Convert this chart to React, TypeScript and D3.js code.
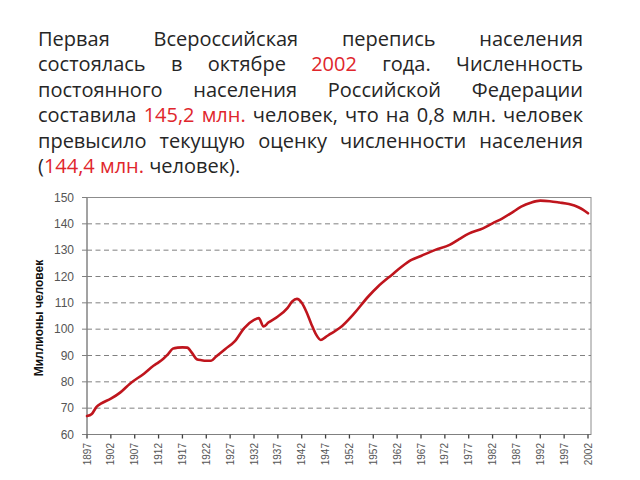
import React, { useMemo } from 'react';
import * as d3 from 'd3';

// ---- Data ----
const years = [
  1897, 1898, 1899, 1900, 1902, 1904, 1906, 1909, 1911, 1912, 1913, 1914, 1915, 1916, 1917, 1918,
  1919, 1920, 1921, 1922, 1923, 1924, 1926, 1928, 1930, 1932, 1933, 1934, 1935, 1937, 1939, 1940,
  1941, 1942, 1943, 1944, 1945, 1946, 1947, 1948, 1950, 1953, 1956, 1958, 1961, 1963, 1965, 1967,
  1970, 1973, 1975, 1977, 1980, 1982, 1984, 1986, 1988, 1990, 1992, 1994, 1996, 1998, 2000, 2001, 2002,
];
const population = [
  67.0, 67.8, 70.5, 71.8, 73.6, 76.0, 79.3, 83.2, 86.2, 87.4, 88.8, 90.5, 92.6, 93.0, 93.1, 93.0,
  91.0, 88.6, 88.2, 88.0, 88.0, 89.5, 92.5, 95.5, 100.5, 103.5, 104.2, 101.0, 102.5, 104.8, 108.0, 110.5,
  111.5, 110.0, 106.5, 102.0, 98.0, 95.9, 97.0, 98.2, 100.5, 106.0, 112.5, 116.2, 120.8, 123.8, 126.3, 127.8,
  130.1, 132.0, 134.2, 136.3, 138.3, 140.2, 142.0, 144.2, 146.5, 148.0, 148.8, 148.6, 148.1, 147.5, 146.3, 145.3, 144.0,
];
const yTickValues = [60, 70, 80, 90, 100, 110, 120, 130, 140, 150];
const xTickLabels = [
  '1897', '1902', '1907', '1912', '1917', '1922', '1927', '1932', '1937', '1942', '1947',
  '1952', '1957', '1962', '1967', '1972', '1977', '1982', '1987', '1992', '1997', '2002',
];
const yAxisTitle = 'Миллионы человек';

type Seg = { t: string; red?: boolean };
const paragraphLines: Seg[][] = [
  [{ t: 'Первая Всероссийская перепись населения' }],
  [{ t: 'состоялась в октябре' }, { t: '2002', red: true }, { t: 'года. Численность' }],
  [{ t: 'постоянного населения Российской Федерации' }],
  [{ t: 'составила' }, { t: '145,2 млн.', red: true }, { t: 'человек, что на 0,8 млн. человек' }],
  [{ t: 'превысило текущую оценку численности населения' }],
  [{ t: '(' }, { t: '144,4 млн.', red: true }, { t: 'человек).' }],
];

const FONT_FAMILY = '"Open Sans", "Noto Sans", sans-serif';
const TEXT_LEFT = 38;
const TEXT_RIGHT = 583;
const TEXT_TOP_BASELINE = 46;
const LINE_STEP = 25.4;

const margin = { left: 87, right: 588, top: 197.5, bottom: 434.5 };

type Word = { t: string; red: boolean; x: number };

function layoutParagraph(): { fontSize: number; lines: Word[][] } {
  const canvas = document.createElement('canvas');
  const ctx = canvas.getContext('2d')!;
  const W = TEXT_RIGHT - TEXT_LEFT;
  const lineWords = paragraphLines.map((l) => {
    const ws: { t: string; red: boolean }[] = [];
    l.forEach((s) => s.t.split(' ').forEach((w) => ws.push({ t: w, red: !!s.red })));
    const out: { parts: { t: string; red: boolean }[] }[] = [];
    ws.forEach((w) => {
      const prev = out[out.length - 1];
      if (prev && prev.parts.length === 1 && prev.parts[0].t === '(') prev.parts.push(w);
      else out.push({ parts: [w] });
    });
    return out;
  });
  let fontSize = 20;
  const measure = (fs: number) => {
    ctx.font = `${fs}px ${FONT_FAMILY}`;
    const space = ctx.measureText(' ').width;
    let maxNat = 0;
    lineWords.forEach((lw) => {
      const sum = lw.reduce((a, w) => a + w.parts.reduce((b, p) => b + ctx.measureText(p.t).width, 0), 0);
      maxNat = Math.max(maxNat, sum + space * 0.8 * (lw.length - 1));
    });
    return maxNat;
  };
  while (fontSize > 12 && measure(fontSize) > W) fontSize -= 0.25;
  ctx.font = `${fontSize}px ${FONT_FAMILY}`;
  const space = ctx.measureText(' ').width;
  const lines: Word[][] = lineWords.map((lw, li) => {
    const widths = lw.map((w) => w.parts.map((p) => ctx.measureText(p.t).width));
    const totals = widths.map((ws) => ws.reduce((a, b) => a + b, 0));
    const sum = totals.reduce((a, b) => a + b, 0);
    const last = li === lineWords.length - 1;
    const gap = last || lw.length < 2 ? space : (W - sum) / (lw.length - 1);
    const res: Word[] = [];
    let x = TEXT_LEFT;
    lw.forEach((w, wi) => {
      let px = x;
      w.parts.forEach((p, pi) => {
        res.push({ t: p.t, red: p.red, x: px });
        px += widths[wi][pi];
      });
      x += totals[wi] + gap;
    });
    return res;
  });
  return { fontSize, lines };
}

export default function App() {
  const para = useMemo(() => layoutParagraph(), []);

  const x = d3.scaleLinear().domain([1897, 2002]).range([margin.left, margin.right]);
  const y = d3.scaleLinear().domain([60, 150]).range([margin.bottom, margin.top]);

  const line = d3
    .line<number>()
    .x((_, i) => x(years[i]))
    .y((d) => y(d))
    .curve(d3.curveMonotoneX);

  const frameRight = margin.right + 3;

  return (
    <svg width={640} height={480} style={{ position: 'absolute', left: 0, top: 0, background: '#fff' }}>
      <rect x={0} y={0} width={640} height={480} fill="#fff" />
      {/* Paragraph */}
      <g fontFamily={FONT_FAMILY} fontSize={para.fontSize}>
        {para.lines.map((lw, li) => (
          <text key={li} y={TEXT_TOP_BASELINE + li * LINE_STEP}>
            {lw.map((w, wi) => (
              <tspan key={wi} x={w.x} fill={w.red ? '#e0262c' : '#262626'}>
                {w.t}
              </tspan>
            ))}
          </text>
        ))}
      </g>

      {/* Plot frame */}
      <rect
        x={margin.left}
        y={margin.top}
        width={frameRight - margin.left}
        height={margin.bottom - margin.top}
        fill="none"
        stroke="#8c8c8c"
        strokeWidth={1}
      />

      {/* Gridlines */}
      {yTickValues
        .filter((v) => v > 60 && v < 150)
        .map((v) => (
          <line
            key={v}
            x1={margin.left}
            x2={frameRight}
            y1={y(v)}
            y2={y(v)}
            stroke="#808080"
            strokeWidth={1}
            strokeDasharray="5,3.5"
          />
        ))}

      {/* Y axis */}
      <line x1={margin.left} x2={margin.left} y1={margin.top} y2={margin.bottom} stroke="#808080" />
      {yTickValues.map((v) => (
        <g key={v}>
          <line x1={margin.left - 5} x2={margin.left} y1={y(v)} y2={y(v)} stroke="#808080" />
          <text
            x={74}
            y={y(v)}
            dy="0.36em"
            textAnchor="end"
            fontFamily="'Liberation Sans', Arial, sans-serif"
            fontSize={12}
            fill="#555"
          >
            {v}
          </text>
        </g>
      ))}
      <text
        transform={`translate(43, ${(margin.top + margin.bottom) / 2 + 2}) rotate(-90)`}
        textAnchor="middle"
        fontFamily="'Liberation Sans', Arial, sans-serif"
        fontSize={12}
        fontWeight="bold"
        fill="#111"
      >
        {yAxisTitle}
      </text>

      {/* X axis */}
      <line x1={margin.left} x2={frameRight} y1={margin.bottom} y2={margin.bottom} stroke="#808080" />
      {xTickLabels.map((lab) => {
        const xv = x(+lab);
        return (
          <g key={lab}>
            <line x1={xv} x2={xv} y1={margin.bottom} y2={margin.bottom + 4} stroke="#404040" strokeWidth={1.3} />
            <text
              transform={`translate(${xv + 3.5}, ${margin.bottom + 8.5}) rotate(-90)`}
              textAnchor="end"
              fontFamily="'Liberation Sans Narrow', 'Liberation Sans', Arial, sans-serif"
              fontSize={10}
              fill="#555"
            >
              {lab}
            </text>
          </g>
        );
      })}

      {/* Population line */}
      <path
        d={line(population) || ''}
        fill="none"
        stroke="#bf151d"
        strokeWidth={2.6}
        strokeLinejoin="round"
        strokeLinecap="round"
      />
    </svg>
  );
}
